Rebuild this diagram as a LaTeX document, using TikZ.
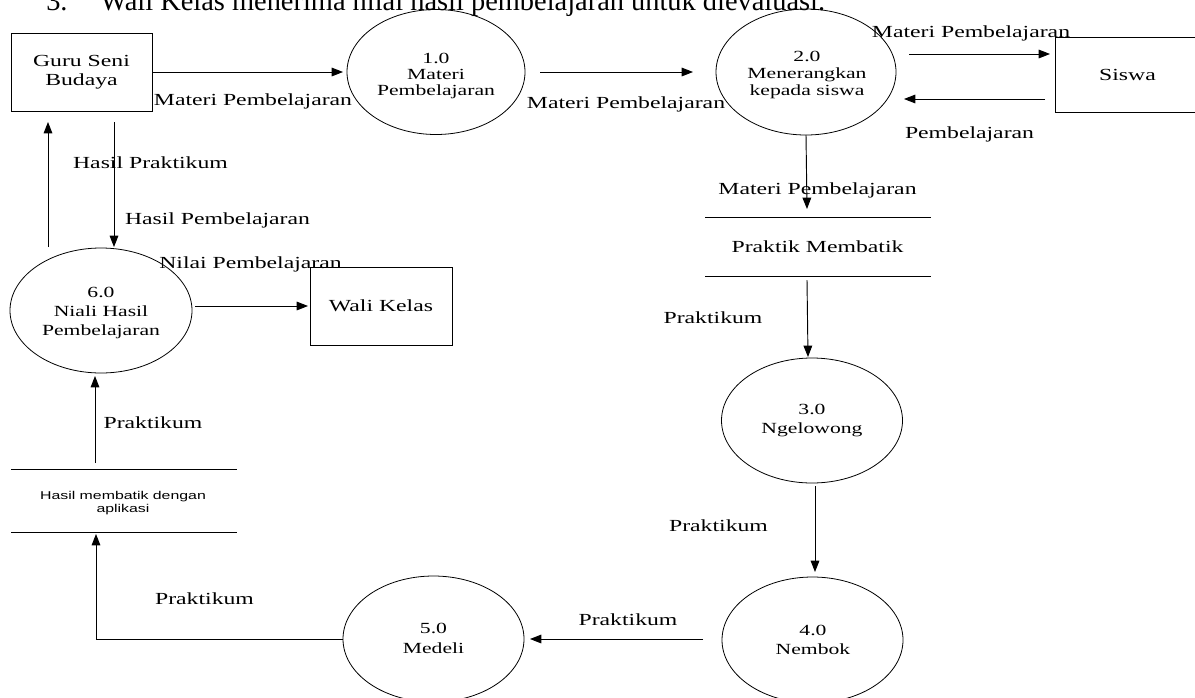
\documentclass[tikz,border=0pt]{standalone}
\usepackage{fontspec}
\setmainfont[FakeStretch=1.4]{Liberation Serif}
\newfontfamily\plainserif{Liberation Serif}
\newfontfamily\sansstretch[FakeStretch=1.4]{Liberation Sans}
\usetikzlibrary{shapes.geometric,arrows.meta}
\tikzset{
  arr/.style={draw, line width=0.7pt, -{Triangle[length=8.5pt,width=6.5pt]}},
  proc/.style={ellipse, draw, line width=0.6pt, inner sep=0pt, outer sep=0pt},
  ptext/.style={align=center, inner sep=0pt},
  ent/.style={rectangle, draw, line width=0.7pt, inner sep=0pt, outer sep=0pt, align=center, font=\fontsize{12.7}{14.25}\selectfont},
  store/.style={rectangle, inner sep=0pt, outer sep=0pt},
  storeline/.style={draw, line width=0.7pt},
  lbl/.style={font=\fontsize{12.7}{15}\selectfont, inner sep=0pt, text height=8.4pt, text depth=0pt},
}
\begin{document}
\begin{tikzpicture}[x=0.75pt,y=-0.75pt]
\clip (0,0) rectangle (1195,697);
\fill[white] (0,0) rectangle (1195,697);

% cut-off heading
\node[anchor=base west, inner sep=0pt, font=\plainserif\fontsize{21.3}{24}\selectfont] (head) at (46,10.5)
  {\makebox[40.5pt][l]{3.}Wali Kelas menerima nilai hasil pembelajaran untuk dievaluasi.};

% external entities
\node[ent, minimum width=105.75pt, minimum height=58.5pt] (guru) at (81.5,72) {Guru Seni\\Budaya};
\node[ent, minimum width=108.75pt, minimum height=56.25pt] (siswa) at (1127.5,74.5) {Siswa};
\node[ent, minimum width=106.5pt, minimum height=58.5pt] (wali) at (381,306) {Wali Kelas};

% processes
\node[proc, minimum width=133.5pt, minimum height=93.75pt] (p1) at (436,72) {};
\node[ptext, font=\fontsize{11.6}{12}\selectfont] (p1t) at (436,76) {1.0\\Materi\\Pembelajaran};
\node[proc, minimum width=135pt, minimum height=94.5pt] (p2) at (806,72) {};
\node[ptext, font=\fontsize{11.6}{12.75}\selectfont] (p2t) at (807,75) {2.0\\Menerangkan\\kepada siswa};
\node[proc, minimum width=135.75pt, minimum height=93.75pt] (p3) at (812,420.5) {};
\node[ptext, font=\fontsize{11.6}{14.25}\selectfont] (p3t) at (812,421) {3.0\\Ngelowong};
\node[proc, minimum width=135.75pt, minimum height=94.5pt] (p4) at (812.5,640) {};
\node[ptext, font=\fontsize{11.6}{14.25}\selectfont] (p4t) at (813,640) {4.0\\Nembok};
\node[proc, minimum width=135.75pt, minimum height=94.5pt] (p5) at (433.5,639) {};
\node[ptext, font=\fontsize{11.6}{15}\selectfont] (p5t) at (433.5,638.5) {5.0\\Medeli};
\node[proc, minimum width=136.5pt, minimum height=93.75pt] (p6) at (101,310.5) {};
\node[ptext, font=\fontsize{11.6}{14.6}\selectfont] (p6t) at (101,313) {6.0\\Niali Hasil\\Pembelajaran};

% data stores
\node[store, minimum width=169.5pt, minimum height=44.25pt] (st1) at (818,246.5) {};
\draw[storeline] (st1.north west) -- (st1.north east) (st1.south west) -- (st1.south east);
\node[lbl] (st1t) at (817.5,247) {Praktik Membatik};
\node[store, minimum width=169.5pt, minimum height=47.25pt] (st2) at (124,500.5) {};
\draw[storeline] (st2.north west) -- (st2.north east) (st2.south west) -- (st2.south east);
\node[inner sep=0pt, align=center, font=\sansstretch\fontsize{8.5}{9.75}\selectfont] (st2t) at (123,503.5) {Hasil membatik dengan\\aplikasi};

% flows
\draw[arr] (guru.east) -- ([shift={(-4,0)}]p1.west);
\draw[arr] ([shift={(15,0)}]p1.east) -- ([shift={(-23,0)}]p2.west);
\draw[arr] ([shift={(103,-18)}]p2.center) -- ([shift={(-5,-20.5)}]siswa.west);
\draw[arr] ([shift={(-10,24.5)}]siswa.west) -- ([shift={(98,27)}]p2.center);
\draw[arr] (p2.south) -- ([shift={(-11,-8)}]st1.north);
\draw[arr] ([shift={(-11,4)}]st1.south) -- ([shift={(-4,-1)}]p3.north);
\draw[arr] ([shift={(3,3)}]p3.south) -- ([shift={(2.5,-5)}]p4.north);
\draw[arr] ([shift={(-19,-1)}]p4.west) -- ([shift={(6,0)}]p5.east);
\draw[arr] (p5.west) -| ([shift={(-28,2)}]st2.south);
\draw[arr] ([shift={(-29,-6)}]st2.north) -- ([shift={(-6,3)}]p6.south);
\draw[arr] ([shift={(32.5,11)}]guru.south) -- ([shift={(13,-1)}]p6.north);
\draw[arr] ([shift={(-53,-63.5)}]p6.center) -- ([shift={(-33.5,11)}]guru.south);
\draw[arr] ([shift={(3,-4.5)}]p6.east) -- ([shift={(-2,0)}]wali.west);

% flow labels
\node[lbl] (l1) at (253,100) {Materi Pembelajaran};
\node[lbl] (l2) at (626,103) {Materi Pembelajaran};
\node[lbl] (l3) at (971,32) {Materi Pembelajaran};
\node[lbl] (l4) at (969.5,133) {Pembelajaran};
\node[lbl] (l5) at (817.5,189) {Materi Pembelajaran};
\node[lbl] (l6) at (713,318) {Praktikum};
\node[lbl] (l7) at (718.5,526) {Praktikum};
\node[lbl] (l8) at (628,620) {Praktikum};
\node[lbl] (l9) at (204.5,599) {Praktikum};
\node[lbl] (l10) at (153,423) {Praktikum};
\node[lbl] (l11) at (250.5,263) {Nilai Pembelajaran};
\node[lbl] (l12) at (150.5,163) {Hasil Praktikum};
\node[lbl] (l13) at (217.5,219) {Hasil Pembelajaran};
\end{tikzpicture}
\end{document}
